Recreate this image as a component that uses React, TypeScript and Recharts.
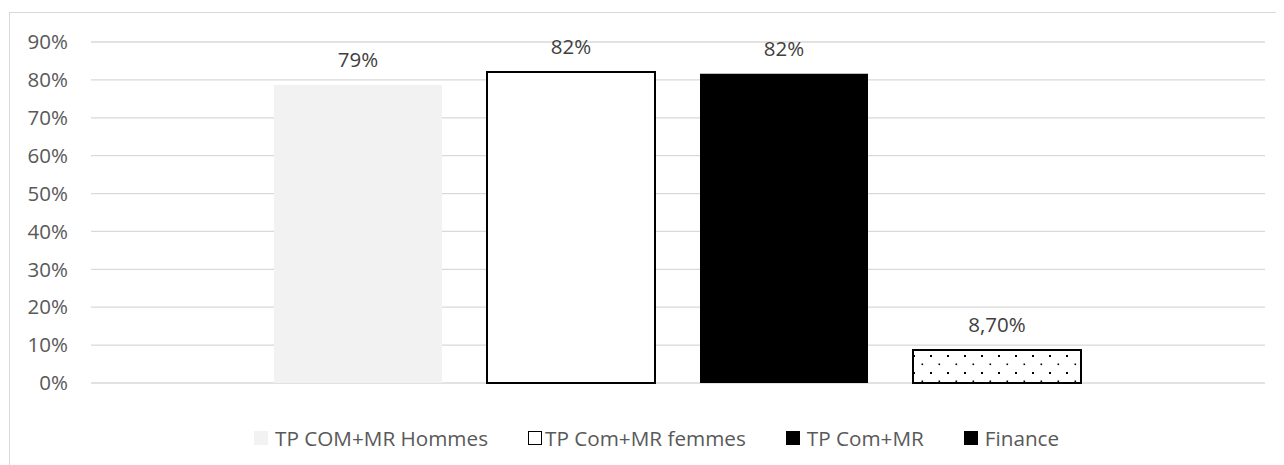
import React from 'react';
import { BarChart, Bar, XAxis, YAxis, CartesianGrid, Legend, LabelList } from 'recharts';

const seriesKeys = ['hommes', 'femmes', 'total', 'finance'];
const seriesNames = ['TP COM+MR Hommes', 'TP Com+MR femmes', 'TP Com+MR', 'Finance'];
const seriesValues = [0.787, 0.821, 0.816, 0.087];
const seriesLabels = ['79%', '82%', '82%', '8,70%'];
const yTicks = [0, 0.1, 0.2, 0.3, 0.4, 0.5, 0.6, 0.7, 0.8, 0.9];

const row: Record<string, any> = { name: '' };
seriesKeys.forEach((k, i) => {
  row[k] = seriesValues[i];
});
const data = [row];

const FONT = '"Open Sans", sans-serif';

const barStyles = [
  { fill: '#f2f2f2', stroke: 'none', strokeWidth: 0 },
  { fill: '#ffffff', stroke: '#000000', strokeWidth: 2 },
  { fill: '#000000', stroke: 'none', strokeWidth: 0 },
  { fill: 'url(#dots)', stroke: '#000000', strokeWidth: 2 },
];

const legendIcons = [
  { background: '#f2f2f2', border: 'none' },
  { background: '#ffffff', border: '1.5px solid #000' },
  { background: '#000000', border: 'none' },
  { background: '#000000', border: 'none' },
];

function LegendContent() {
  return (
    <div style={{ height: 70, paddingTop: 40, boxSizing: 'border-box' }}>
      <div
        style={{
          display: 'flex',
          alignItems: 'center',
          height: 30,
          paddingLeft: 244,
          gap: 40,
          fontFamily: FONT,
          fontSize: 20.7,
          color: '#595959',
          whiteSpace: 'nowrap',
        }}
      >
        {seriesNames.map((name, i) => (
          <div key={name} style={{ display: 'flex', alignItems: 'center' }}>
            <span
              style={{
                display: 'inline-block',
                width: 14,
                height: 14,
                boxSizing: 'border-box',
                marginRight: i === 1 ? 3 : 7,
                ...legendIcons[i],
              }}
            />
            <span>{name}</span>
          </div>
        ))}
      </div>
    </div>
  );
}

export default function App() {
  return (
    <div
      style={{
        marginLeft: 1,
        marginTop: 4,
        width: 1270,
        height: 452,
        borderTop: '1px solid #d9d9d9',
        borderLeft: '1px solid #d9d9d9',
        background: '#fff',
      }}
    >
      <BarChart
        width={1268}
        height={450}
        data={data}
        margin={{ top: 29, right: 13, bottom: 10, left: 0 }}
        barCategoryGap={183}
        barGap={45}
      >
        <defs>
          <pattern id="dots" patternUnits="userSpaceOnUse" width="17" height="17">
            <rect x="0" y="0" width="17" height="17" fill="#ffffff" />
            <rect x="2" y="2" width="2" height="2" fill="#000000" />
            <rect x="10.5" y="10.5" width="1.6" height="1.6" fill="#000000" />
          </pattern>
        </defs>
        <CartesianGrid vertical={false} stroke="#d9d9d9" strokeWidth={1.3} />
        <XAxis dataKey="name" hide />
        <YAxis
          width={81}
          domain={[0, 0.9]}
          ticks={yTicks}
          interval={0}
          axisLine={false}
          tickLine={false}
          tickMargin={17}
          tickFormatter={(v: number) => `${Math.round(v * 100)}%`}
          tick={{ fill: '#595959', fontSize: 20.5, fontFamily: FONT }}
        />
        <Legend verticalAlign="bottom" content={<LegendContent />} />
        {seriesKeys.map((k, i) => (
          <Bar
            key={k}
            dataKey={k}
            name={seriesNames[i]}
            fill={barStyles[i].fill}
            stroke={barStyles[i].stroke}
            strokeWidth={barStyles[i].strokeWidth}
            isAnimationActive={false}
          >
            <LabelList
              dataKey={k}
              position="top"
              offset={18}
              formatter={() => seriesLabels[i]}
              style={{ fill: '#404040', fontSize: 20.5, fontFamily: FONT }}
            />
          </Bar>
        ))}
      </BarChart>
    </div>
  );
}
